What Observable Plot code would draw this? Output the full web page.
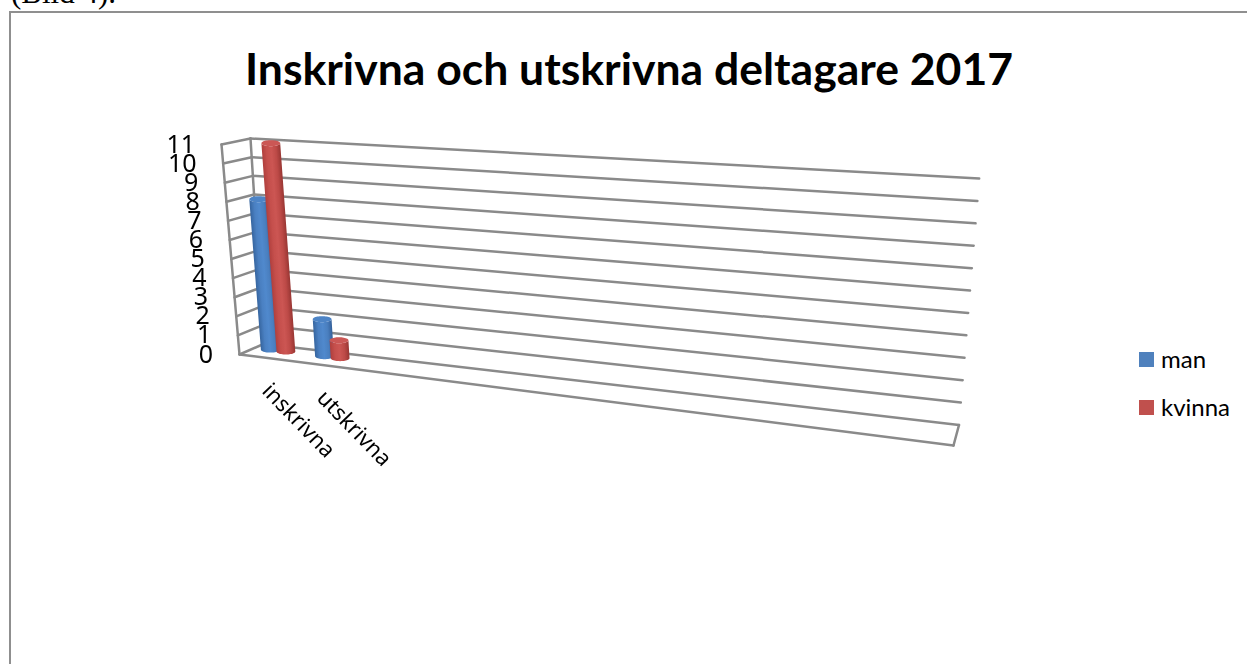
<!DOCTYPE html>
<html lang="sv">
<head>
<meta charset="utf-8">
<script src="https://cdn.jsdelivr.net/npm/d3@7"></script>
<script src="https://cdn.jsdelivr.net/npm/@observablehq/plot@0.6"></script>
<style>
  html, body { margin: 0; padding: 0; background: #fff; overflow: hidden; }
  #page { position: relative; width: 1247px; height: 664px; overflow: hidden; font-family: Lato, "Noto Sans", sans-serif; color: #000; }
  #note { position: absolute; left: 11px; top: -23px; font: 31px "Liberation Serif", serif; line-height: 32px; }
  #border { position: absolute; left: 9px; top: 11px; right: -5px; bottom: -5px; border-left: 2px solid #8f8f8f; border-top: 2px solid #8f8f8f; }
  #title { position: absolute; left: 0; width: 1258px; top: 41px; text-align: center; font-weight: 700; font-size: 44.5px; line-height: 54px; white-space: nowrap; }
  #chart { position: absolute; left: 0; top: 0; }
  #chart svg { filter: blur(0.55px); background: transparent; }
  .key { position: absolute; left: 1139px; font-size: 24px; line-height: 24px; white-space: nowrap; }
  .key i { position: absolute; left: 0; top: 4px; width: 15px; height: 15px; }
  .key span { position: absolute; left: 22px; top: -1px; }
</style>
</head>
<body>
<div id="page">
  <div id="note">(Bild 4).</div>
  <div id="border"></div>
  <div id="chart"></div>
  <div id="title"></div>
  <div id="legend"></div>
</div>
<script>
// ---- chart values ----
const title = "Inskrivna och utskrivna deltagare 2017";
const categories = ["inskrivna", "utskrivna"];
const seriesNames = ["man", "kvinna"];
const man = [8, 2];
const kvinna = [11, 1];
const valueTicks = [0, 1, 2, 3, 4, 5, 6, 7, 8, 9, 10, 11];
const categorySlots = 13;           // the category axis has room for 13, only two are filled
const seriesColors = ["#4f81bd", "#c0504d"];

// ---- 3-D box corners of the original perspective view ----
const maxValue = 11;
const backFloor = [[263, 343.5], [958.5, 424.5]];
const backTop = [[250, 138], [978.7, 178]];
const frontFloor = [[239, 354], [953, 445]];
const frontTop = [[221, 144], [973, 192]];

const mix = (a, b, t) => a + (b - a) * t;
const mix2 = (a, b, t) => [mix(a[0], b[0], t), mix(a[1], b[1], t)];
// u: along the categories 0..1, v: value, d: depth 0 (back) .. 1 (front)
function project(u, v, d) {
  const back = mix2(mix2(backFloor[0], backFloor[1], u), mix2(backTop[0], backTop[1], u), v / maxValue);
  const front = mix2(mix2(frontFloor[0], frontFloor[1], u), mix2(frontTop[0], frontTop[1], u), v / maxValue);
  return mix2(back, front, d);
}

// ---- box lines ----
const wall = [];
let id = 0;
const seg = (a, b) => { const k = id++; wall.push({k, p: a}, {k, p: b}); };
for (const v of valueTicks) {
  seg(project(0, v, 0), project(1, v, 0));   // back wall
  seg(project(0, v, 1), project(0, v, 0));   // side wall
}
seg(project(0, 0, 1), project(0, maxValue, 1));  // front vertical of side wall
seg(project(0, 0, 0), project(0, maxValue, 0));
seg(project(0, 0, 1), project(1, 0, 1));         // floor front
seg(project(1, 0, 1), project(1, 0, 0));         // floor right

// ---- cylinders ----
const shadeStops = [
  ["#36659f", "#4a80c2", "#5089cd", "#4a7fbf", "#34609a"],
  ["#b03f3d", "#c54f4c", "#cc5653", "#bd4a47", "#983633"]
];
const capColors = ["#4d84c6", "#cb5755"];
const rx = 9.4, ry = 3, steps = 24, lift = 1.5, capDrop = 1.5, lean = 1.1;
const bars = categories.flatMap((c, ci) => seriesNames.map((s, si) => ({
  category: c, ci, si, value: (si === 0 ? man : kvinna)[ci]
})));
const body = [], caps = [];
bars.forEach((b, n) => {
  const u = (b.ci + 0.5 + (b.si === 0 ? -0.144 : 0.144)) / categorySlots;
  const base = project(u, 0, 0.5), top = project(u, b.value, 0.5);
  const bx = base[0], by = base[1] - lift;
  const tx = bx + (top[0] - base[0]) * lean, ty = by + (top[1] - base[1]) + capDrop;
  // gradient axis: across the cylinder, perpendicular to its leaning axis
  const ax = tx - bx, ay = ty - by, len = Math.hypot(ax, ay) || 1;
  b.grad = {x1: bx - rx * (-ay / len), y1: by - rx * (ax / len), x2: bx + rx * (-ay / len), y2: by + rx * (ax / len)};
  for (let i = 0; i <= steps; i++) {
    const a = Math.PI * (1 - i / steps), c = Math.cos(a), s = Math.sin(a);
    body.push({n, x1: bx + rx * c, y1: by + ry * s, x2: tx + rx * c, y2: ty + ry * s});
    caps.push({n, x: tx + rx * c, y1: ty - ry * s, y2: ty + ry * s});
  }
});

// ---- labels ----
const tickLabels = valueTicks.map(v => { const [x, y] = project(0, v, 1); return {label: String(v), x, y}; });
const catLabels = categories.map((c, i) => {
  const [x, y] = project((i + 0.5) / categorySlots, 0, 1);
  return {label: c, x, y};
});

const plot = Plot.plot({
  width: 1247, height: 664, margin: 0,
  x: {domain: [0, 1247], range: [0, 1247], axis: null},
  y: {domain: [0, 664], range: [0, 664], axis: null},
  style: {background: "transparent", overflow: "visible"},
  marks: [
    (index, {x, y}) => {
      const defs = d3.create("svg:defs");
      bars.forEach((b, n) => {
        const g = defs.append("linearGradient").attr("id", "bar" + n).attr("gradientUnits", "userSpaceOnUse")
          .attr("x1", x(b.grad.x1)).attr("y1", y(b.grad.y1)).attr("x2", x(b.grad.x2)).attr("y2", y(b.grad.y2));
        shadeStops[b.si].forEach((col, i) => g.append("stop").attr("offset", i / 4).attr("stop-color", col));
      });
      return defs.node();
    },
    Plot.line(wall, {x: d => d.p[0], y: d => d.p[1], z: "k", stroke: "#8a8a8a", strokeWidth: 2.5}),
    bars.map((b, n) => [
      Plot.area(body.filter(d => d.n === n), {x1: "x1", y1: "y1", x2: "x2", y2: "y2", fill: `url(#bar${n})`}),
      Plot.area(caps.filter(d => d.n === n), {x1: "x", x2: "x", y1: "y1", y2: "y2", fill: capColors[b.si]})
    ]),
    Plot.text(tickLabels, {x: "x", y: "y", text: "label", dx: -26.5, dy: 0, textAnchor: "end", lineAnchor: "middle", fontSize: 25, fill: "#000"}),
    Plot.text(catLabels, {x: "x", y: "y", text: "label", dx: -1, dy: 29, rotate: 46, textAnchor: "start", lineAnchor: "middle", fontSize: 22, fill: "#000"})
  ]
});
document.getElementById("chart").append(plot);
document.getElementById("title").textContent = title;
const legend = document.getElementById("legend");
seriesNames.forEach((s, i) => {
  const k = document.createElement("div");
  k.className = "key";
  k.style.top = (348 + i * 48) + "px";
  const sw = document.createElement("i"); sw.style.background = seriesColors[i];
  const t = document.createElement("span"); t.textContent = s;
  k.append(sw, t); legend.append(k);
});
</script>
</body>
</html>
